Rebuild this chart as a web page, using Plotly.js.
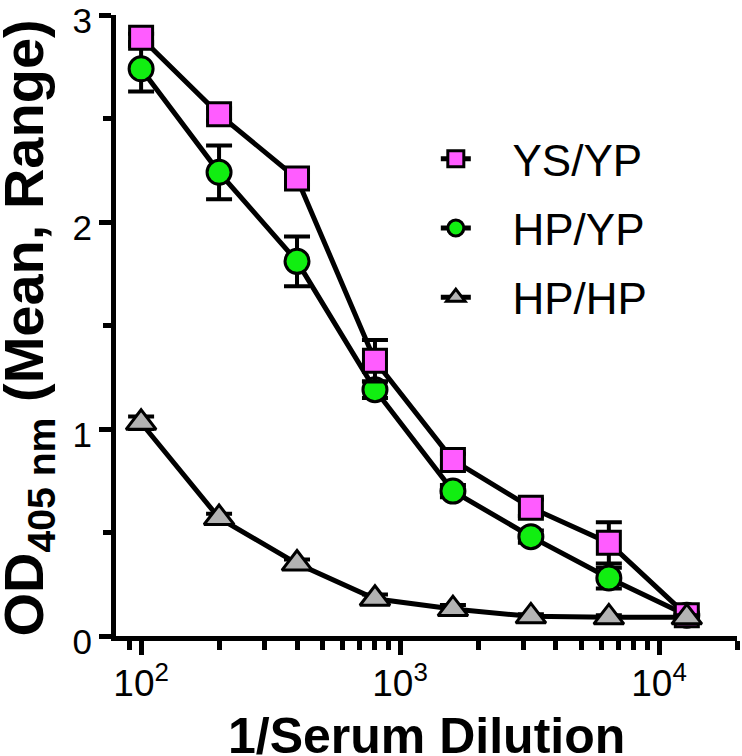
<!DOCTYPE html>
<html>
<head>
<meta charset="utf-8">
<script src="https://cdn.plot.ly/plotly-3.0.1.min.js"></script>
<style>
  html, body { margin: 0; padding: 0; background: #fff; }
  #chart { width: 742px; height: 756px; }
</style>
</head>
<body>
<div id="chart"></div>
<script>
// serum dilutions (1/dilution)
const dilutions = [100, 200, 400, 800, 1600, 3200, 6400, 12800];

// OD405 means and half-ranges
const ysypMean = [2.89, 2.52, 2.21, 1.33, 0.85, 0.62, 0.45, 0.10];
const ysypRange = [0.02, 0.03, 0.03, 0.10, 0.03, 0.04, 0.10, 0.01];
const hpypMean = [2.74, 2.24, 1.81, 1.19, 0.70, 0.48, 0.28, 0.10];
const hpypRange = [0.11, 0.13, 0.12, 0.04, 0.03, 0.03, 0.05, 0.01];
const hphpMean = [1.03, 0.57, 0.35, 0.18, 0.13, 0.095, 0.09, 0.09];
const hphpRange = [0.03, 0.02, 0.02, 0.02, 0.02, 0.01, 0.01, 0.01];

const xMajorTicks = [100, 1000, 10000];
const xMajorLabels = ["10<sup>2</sup>", "10<sup>3</sup>", "10<sup>4</sup>"];
const xMinorTicks = [90, 200, 300, 400, 500, 600, 700, 800, 900,
  2000, 3000, 4000, 5000, 6000, 7000, 8000, 9000, 20000];
const yMajorTicks = [0, 1, 2, 3];
const yMinorTicks = [0.5, 1.5, 2.5];

const xTitle = "1/Serum Dilution";
const yTitle = "OD<sub>405 nm</sub> (Mean, Range)";

const pad = "\u00a0\u00a0\u00a0";

function makeTrace(name, y, err, symbol, color, size, rank) {
  return {
    type: "scatter",
    mode: "lines+markers",
    name: pad + name,
    x: dilutions,
    y: y,
    legendrank: rank,
    legendgroup: name,
    cliponaxis: false,
    line: { color: "#000", width: 5 },
    marker: { symbol: symbol, color: color, size: size, line: { color: "#000", width: 3 } },
    error_y: { type: "data", array: err, visible: true, color: "#000", thickness: 4, width: 13 }
  };
}

function renderChart() {
  const traces = [
    makeTrace("HP/YP", hpypMean, hpypRange, "circle", "#11ee11", 24, 2),
    makeTrace("YS/YP", ysypMean, ysypRange, "square", "#ff5cff", 23, 1),
    makeTrace("HP/HP", hphpMean, hphpRange, "triangle-up", "#b3b3b3", 26, 3)
  ];

  const layout = {
    width: 742,
    height: 756,
    paper_bgcolor: "#fff",
    plot_bgcolor: "#fff",
    margin: { l: 116, r: 5, t: 15, b: 120 },
    font: { family: "Liberation Sans, Arial, sans-serif", color: "#000" },
    showlegend: true,
    legend: {
      x: 0.515, y: 0.825, xanchor: "left", yanchor: "top",
      traceorder: "grouped",
      tracegroupgap: 9,
      font: { size: 44 },
      bgcolor: "rgba(0,0,0,0)"
    },
    xaxis: {
      type: "log",
      range: [Math.log10(80), Math.log10(20000)],
      showgrid: false,
      zeroline: false,
      showline: true,
      linecolor: "#000",
      linewidth: 5,
      ticks: "outside",
      ticklen: 14,
      tickwidth: 5,
      tickcolor: "#000",
      tickvals: xMajorTicks,
      ticktext: xMajorLabels,
      tickfont: { size: 37 },
      ticklabelstandoff: -3,
      ticklabeloverflow: "allow",
      minor: { tickvals: xMinorTicks, ticks: "outside", ticklen: 9, tickwidth: 5, tickcolor: "#000", showgrid: false }
    },
    yaxis: {
      range: [0, 3],
      showgrid: false,
      zeroline: false,
      showline: true,
      linecolor: "#000",
      linewidth: 5,
      ticks: "outside",
      ticklen: 12,
      tickwidth: 5,
      tickcolor: "#000",
      tickvals: yMajorTicks,
      tickfont: { size: 35 },
      ticklabelshift: 6,
      ticklabeloverflow: "allow",
      minor: { tickvals: yMinorTicks, ticks: "outside", ticklen: 8, tickwidth: 5, tickcolor: "#000", showgrid: false }
    },
    annotations: [
      {
        text: xTitle, xref: "paper", yref: "paper", x: 0.5, y: 0,
        xanchor: "center", yanchor: "top", yshift: -70, showarrow: false,
        font: { size: 50, weight: "bold" }
      },
      {
        text: yTitle, xref: "paper", yref: "paper", x: 0, y: 0.495,
        xanchor: "center", yanchor: "middle", xshift: -88, textangle: -90, showarrow: false,
        font: { size: 56, weight: "bold" }
      }
    ]
  };

  Plotly.newPlot("chart", traces, layout, { displayModeBar: false, staticPlot: true });
}

document.addEventListener("DOMContentLoaded", renderChart);
</script>
</body>
</html>
